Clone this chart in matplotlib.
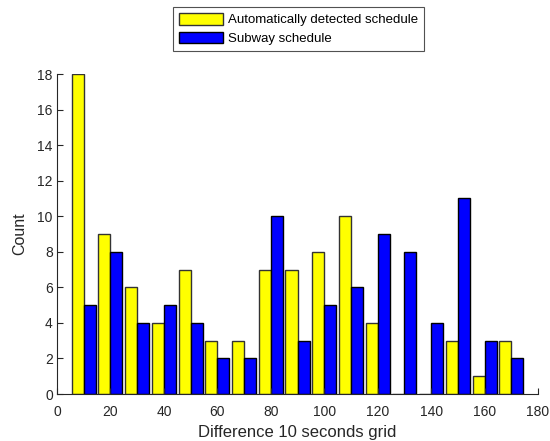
import matplotlib
matplotlib.use("Agg")
import matplotlib.pyplot as plt
import numpy as np

plt.rcParams['font.family'] = ['Liberation Sans', 'DejaVu Sans']

centers = [10, 20, 30, 40, 50, 60, 70, 80, 90, 100, 110, 120, 130, 140, 150, 160, 170]
auto_counts = [18, 9, 6, 4, 7, 3, 3, 7, 7, 8, 10, 4, 0, 0, 3, 1, 3]
subway_counts = [5, 8, 4, 5, 4, 2, 2, 10, 3, 5, 6, 9, 8, 4, 11, 3, 2]
series_labels = ["Automatically detected schedule", "Subway schedule"]
xlabel = "Difference 10 seconds grid"
ylabel = "Count"
xticks = [0, 20, 40, 60, 80, 100, 120, 140, 160, 180]
yticks = [0, 2, 4, 6, 8, 10, 12, 14, 16, 18]

fig = plt.figure(figsize=5.5 * np.array([1, 441 / 550]), dpi=100)
ax = fig.add_axes([57 / 550, 1 - 394 / 441, (538 - 57) / 550, (394 - 74) / 441])

c = np.array(centers, dtype=float)
w = 4.5
ax.bar(c - w / 2, auto_counts, width=w, color='#ffff00', edgecolor='#333333',
       linewidth=1.0, label=series_labels[0])
ax.bar(c + w / 2, subway_counts, width=w, color='#0000ff', edgecolor='#000000',
       linewidth=1.0, label=series_labels[1])

ax.set_xlim(0, 180)
ax.set_ylim(0, 18)
ax.set_xticks(xticks)
ax.set_yticks(yticks)
axc = '#262626'
for s in ['top', 'right']:
    ax.spines[s].set_visible(False)
for s in ['left', 'bottom']:
    ax.spines[s].set_color(axc)
    ax.spines[s].set_linewidth(0.8)
ax.tick_params(direction='in', length=4, width=0.8, colors=axc, labelsize=10,
               labelcolor=axc)
ax.tick_params(axis='x', pad=8)
ax.tick_params(axis='y', pad=3)
ax.set_xlabel(xlabel, fontsize=12, color=axc, labelpad=4)
ax.set_ylabel(ylabel, fontsize=11.5, color=axc, labelpad=7)

leg = fig.legend(loc='upper center', bbox_to_anchor=(298.5 / 550, 1 - 7 / 441),
                 fontsize=9.5, frameon=True, fancybox=False, edgecolor='#262626',
                 handlelength=3.3, handleheight=1.0, handletextpad=0.4,
                 borderpad=0.45, labelspacing=0.4, borderaxespad=0)
leg.get_frame().set_linewidth(0.8)
for t in leg.get_texts():
    t.set_color('#000000')

fig.savefig("out.png", dpi=100)
